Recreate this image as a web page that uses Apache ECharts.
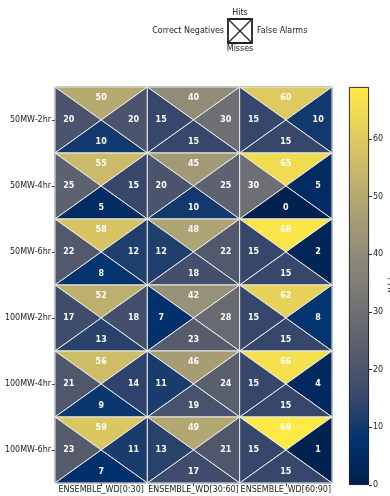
<!DOCTYPE html>
<html>
<head>
<meta charset="utf-8">
<script src="https://cdn.jsdelivr.net/npm/echarts@6/dist/echarts.min.js"></script>
<style>
  html, body { margin: 0; padding: 0; background: #fff; }
  #chart { width: 390px; height: 496px; }
</style>
</head>
<body>
<div id="chart"></div>
<script>
// Contingency table per configuration and wind-direction bin
const rowLabels = ['50MW-2hr', '50MW-4hr', '50MW-6hr', '100MW-2hr', '100MW-4hr', '100MW-6hr'];
const colLabels = ['ENSEMBLE_WD[0:30]', 'ENSEMBLE_WD[30:60]', 'ENSEMBLE_WD[60:90]'];

const hits = [
  [50, 40, 60],
  [55, 45, 65],
  [58, 48, 68],
  [52, 42, 62],
  [56, 46, 66],
  [59, 49, 69]
];
const correctNegatives = [
  [20, 15, 15],
  [25, 20, 30],
  [22, 12, 15],
  [17, 7, 15],
  [21, 11, 15],
  [23, 13, 15]
];
const falseAlarms = [
  [20, 30, 10],
  [15, 25, 5],
  [12, 22, 2],
  [18, 28, 8],
  [14, 24, 4],
  [11, 21, 1]
];
const misses = [
  [10, 15, 15],
  [5, 10, 0],
  [8, 18, 15],
  [13, 23, 15],
  [9, 19, 15],
  [7, 17, 15]
];

const colorbarTicks = [0, 10, 20, 30, 40, 50, 60];
const colorMin = 0;
const colorMax = 69;

// cividis colour ramp
const cividis = ['#00204D', '#00336F', '#39486B', '#575C6D', '#707173',
                 '#8A8779', '#A69D75', '#C4B56C', '#E4CF5B', '#FFEA46'];

// part: 0 = top (hits), 1 = left (correct negatives), 2 = right (false alarms), 3 = bottom (misses)
const parts = [hits, correctNegatives, falseAlarms, misses];
const triData = [];
for (let r = 0; r < rowLabels.length; r++) {
  for (let c = 0; c < colLabels.length; c++) {
    for (let p = 0; p < 4; p++) {
      triData.push([c, r, p, parts[p][r][c]]);
    }
  }
}

function renderTriangle(params, api) {
  const col = api.value(0), row = api.value(1), part = api.value(2), v = api.value(3);
  const ctr = api.coord([col, row]);
  const sz = api.size([1, 1]);
  const hw = sz[0] / 2, hh = sz[1] / 2;
  const x0 = ctr[0] - hw, x1 = ctr[0] + hw, y0 = ctr[1] - hh, y1 = ctr[1] + hh;
  let pts, tx = ctr[0], ty = ctr[1];
  if (part === 0) { pts = [[x0, y0], [x1, y0], ctr]; ty = ctr[1] - 0.33 * sz[1]; }
  else if (part === 1) { pts = [[x0, y0], [x0, y1], ctr]; tx = ctr[0] - 0.35 * sz[0]; }
  else if (part === 2) { pts = [[x1, y0], [x1, y1], ctr]; tx = ctr[0] + 0.35 * sz[0]; }
  else { pts = [[x0, y1], [x1, y1], ctr]; ty = ctr[1] + 0.33 * sz[1]; }
  return {
    type: 'group',
    children: [
      {
        type: 'polygon',
        shape: { points: pts },
        style: { fill: api.visual('color'), stroke: '#ececec', lineWidth: 1 }
      },
      {
        type: 'text',
        z2: 10,
        style: {
          text: String(v), x: tx, y: ty, fill: '#ffffff',
          align: 'center', verticalAlign: 'middle',
          font: 'bold 8px "DejaVu Sans"'
        }
      }
    ]
  };
}

const chart = echarts.init(document.getElementById('chart'), null, { renderer: 'canvas' });

const gradStops = cividis.map((c, i) => ({ offset: i / (cividis.length - 1), color: c }));

const legendCx = 240, legendCy = 31, legendHalf = 12;

chart.setOption({
  animation: false,
  textStyle: { fontFamily: 'DejaVu Sans' },
  grid: [
    { left: 55, right: 58, top: 87, bottom: 13, show: true, borderColor: '#000', borderWidth: 0.8, backgroundColor: 'transparent' },
    { left: 349, width: 20, top: 87, bottom: 11 }
  ],
  xAxis: [
    {
      gridIndex: 0, type: 'category', data: colLabels,
      axisLine: { show: false },
      axisTick: { show: true, alignWithLabel: true, length: 3, lineStyle: { color: '#000', width: 0.8 } },
      axisLabel: { color: '#222', fontSize: 8, margin: 3, interval: 0, hideOverlap: false },
      splitLine: { show: false }
    },
    {
      gridIndex: 1, type: 'category', data: [''], show: false
    }
  ],
  yAxis: [
    {
      gridIndex: 0, type: 'category', data: rowLabels, inverse: true,
      axisLine: { show: false },
      axisTick: { show: true, alignWithLabel: true, length: 3, lineStyle: { color: '#000', width: 0.8 } },
      axisLabel: { color: '#222', fontSize: 8, margin: 4, interval: 0 },
      splitLine: { show: false }
    },
    {
      gridIndex: 1, type: 'value', position: 'right', min: colorMin, max: colorMax, interval: 10,
      axisLine: { show: false },
      axisTick: { show: true, length: 3, lineStyle: { color: '#000', width: 0.8 }, customValues: colorbarTicks },
      axisLabel: { color: '#222', fontSize: 8, margin: 4, customValues: colorbarTicks },
      splitLine: { show: false }
    }
  ],
  visualMap: {
    show: false, type: 'continuous', seriesIndex: 0, dimension: 3,
    min: colorMin, max: colorMax, inRange: { color: cividis }
  },
  series: [
    {
      type: 'custom', xAxisIndex: 0, yAxisIndex: 0,
      renderItem: renderTriangle, data: triData, clip: false
    },
    {
      type: 'bar', xAxisIndex: 1, yAxisIndex: 1, barWidth: '100%',
      data: [colorMax],
      itemStyle: {
        color: new echarts.graphic.LinearGradient(0, 1, 0, 0, gradStops),
        borderColor: '#000', borderWidth: 0.8
      },
      silent: true
    }
  ],
  graphic: [
    {
      type: 'rect',
      shape: { x: legendCx - legendHalf, y: legendCy - legendHalf, width: legendHalf * 2, height: legendHalf * 2 },
      style: { fill: 'none', stroke: '#222', lineWidth: 1.8 }
    },
    {
      type: 'line',
      shape: { x1: legendCx - legendHalf, y1: legendCy - legendHalf, x2: legendCx + legendHalf, y2: legendCy + legendHalf },
      style: { stroke: '#222', lineWidth: 1.2 }
    },
    {
      type: 'line',
      shape: { x1: legendCx + legendHalf, y1: legendCy - legendHalf, x2: legendCx - legendHalf, y2: legendCy + legendHalf },
      style: { stroke: '#222', lineWidth: 1.2 }
    },
    { type: 'text', style: { text: 'Hits', x: legendCx, y: legendCy - legendHalf - 6, align: 'center', verticalAlign: 'middle', font: '8px "DejaVu Sans"', fill: '#222' } },
    { type: 'text', style: { text: 'Misses', x: legendCx, y: legendCy + legendHalf + 6, align: 'center', verticalAlign: 'middle', font: '8px "DejaVu Sans"', fill: '#222' } },
    { type: 'text', style: { text: 'Correct Negatives', x: legendCx - legendHalf - 4, y: legendCy, align: 'right', verticalAlign: 'middle', font: '8px "DejaVu Sans"', fill: '#222' } },
    { type: 'text', style: { text: 'False Alarms', x: legendCx + legendHalf + 5, y: legendCy, align: 'left', verticalAlign: 'middle', font: '8px "DejaVu Sans"', fill: '#222' } },
    {
      type: 'text', x: 391, y: 285, rotation: Math.PI / 2,
      style: { text: 'N [-]', x: 0, y: 0, align: 'center', verticalAlign: 'middle', font: '7px "DejaVu Sans"', fill: '#222' }
    }
  ]
});
</script>
</body>
</html>
